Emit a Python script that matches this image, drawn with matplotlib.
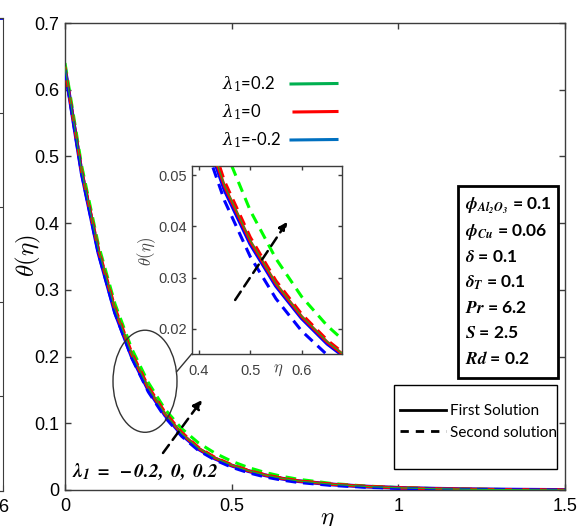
import matplotlib
matplotlib.use('Agg')
import matplotlib.pyplot as plt
from matplotlib.patches import Ellipse, Rectangle
from matplotlib.lines import Line2D
from matplotlib.font_manager import FontProperties

plt.rcParams['font.family'] = ['Liberation Sans', 'DejaVu Sans']

# ---------------- data ----------------
eta = [0, 0.05, 0.1, 0.15, 0.2, 0.25, 0.3, 0.35, 0.4, 0.45, 0.5, 0.55, 0.6,
       0.65, 0.7, 0.8, 0.9, 1.0, 1.1, 1.2, 1.35, 1.5]

green_first = [0.634, 0.478, 0.361, 0.271, 0.204, 0.153, 0.1145, 0.0849, 0.0628, 0.0480,
               0.0373, 0.0289, 0.0225, 0.0175, 0.0136, 0.0086, 0.0053, 0.0033, 0.0020,
               0.0012, 0.0005, 0.0]
red_first = [0.632, 0.477, 0.360, 0.270, 0.203, 0.152, 0.114, 0.0845, 0.0625, 0.0478,
             0.0371, 0.0288, 0.0224, 0.0174, 0.0135, 0.0085, 0.0053, 0.0033, 0.0020,
             0.0012, 0.0005, 0.0]
blue_first = [0.632, 0.475, 0.356, 0.266, 0.200, 0.150, 0.1122, 0.0832, 0.0616, 0.0471,
              0.0366, 0.0284, 0.0221, 0.0171, 0.0133, 0.0083, 0.0052, 0.0032, 0.0020,
              0.0012, 0.0005, 0.0]
green_second = [0.640, 0.486, 0.368, 0.279, 0.212, 0.161, 0.121, 0.092, 0.0707, 0.0552,
                0.0431, 0.0337, 0.0263, 0.0206, 0.0161, 0.0098, 0.0060, 0.0037, 0.0023,
                0.0014, 0.0006, 0.0]
red_second = [0.632, 0.479, 0.362, 0.273, 0.206, 0.155, 0.1165, 0.0866, 0.0640, 0.0488,
              0.0379, 0.0294, 0.0229, 0.0178, 0.0138, 0.0087, 0.0054, 0.0034, 0.0021,
              0.0013, 0.0005, 0.0]
blue_second = [0.630, 0.474, 0.355, 0.265, 0.198, 0.147, 0.109, 0.0805, 0.0594, 0.0450,
               0.0341, 0.0259, 0.0196, 0.0149, 0.0113, 0.0068, 0.0041, 0.0025, 0.0015,
               0.0009, 0.0004, 0.0]

lambda_labels = [r'$\lambda_1$=0.2', r'$\lambda_1$=0', r'$\lambda_1$=-0.2']
solution_labels = ['First Solution', 'Second solution']
param_lines = [r'$\mathbfit{\phi}_{\mathbfit{Al_2O_3}}$ = 0.1',
               r'$\mathbfit{\phi}_{\mathbfit{Cu}}$ = 0.06',
               r'$\mathbfit{\delta}$ = 0.1',
               r'$\mathbfit{\delta}_{\mathbfit{T}}$ = 0.1',
               r'$\mathbfit{Pr}$ = 6.2',
               r'$\mathbfit{S}$ = 2.5',
               r'$\mathbfit{Rd}$ = 0.2']

xticks = [0, 0.5, 1, 1.5]
xtick_labels = ['0', '0.5', '1', '1.5']
yticks = [0, 0.1, 0.2, 0.3, 0.4, 0.5, 0.6, 0.7]
ytick_labels = ['0', '0.1', '0.2', '0.3', '0.4', '0.5', '0.6', '0.7']
inset_xticks = [0.4, 0.5, 0.6]
inset_xtick_labels = ['0.4', '0.5', '0.6']
inset_yticks = [0.02, 0.03, 0.04, 0.05]
inset_ytick_labels = ['0.02', '0.03', '0.04', '0.05']

left_panel_x = [4.0, 6.0]
left_panel_y = [1.0, 1.0]

# ---------------- layout helpers ----------------
W, H = 579, 526
fig = plt.figure(figsize=(W / 100, H / 100), dpi=100)


def fx(px):
    return px / W


def fy(py):
    return 1 - py / H


SPINE = '#3c3c3c'
GREEN, RED, BLUE = '#00ff00', '#ff0000', '#0000ff'
LEG_COLORS = ['#00b050', '#ff0000', '#0070c0']

# ---------------- left panel remnant ----------------
ax0 = fig.add_axes([-0.5, fy(491), 0.5 + 3 / W, (491 - 18) / H])
ax0.set_xlim(0, 6)
ax0.set_ylim(0, 1)
ax0.plot(left_panel_x, left_panel_y, color=BLUE, lw=2)
ax0.set_xticks([6])
ax0.set_xticklabels(['6'])
ax0.set_yticks([0, 0.2, 0.4, 0.6, 0.8, 1.0])
ax0.tick_params(direction='in', left=False, right=True, labelleft=False,
                length=4, color=SPINE, labelsize=13, pad=6)
for s in ax0.spines.values():
    s.set_color(SPINE)

# ---------------- main axes ----------------
ax = fig.add_axes([fx(65), fy(490), 500 / W, 467 / H])
ax.set_xlim(0, 1.5)
ax.set_ylim(0, 0.7)
ax.set_xticks(xticks)
ax.set_xticklabels(xtick_labels)
ax.set_yticks(yticks)
ax.set_yticklabels(ytick_labels)
ax.tick_params(direction='in', top=True, right=True, length=4, width=1,
               color=SPINE, labelsize=13, pad=6)
ax.tick_params(axis='y', pad=4)
for s in ax.spines.values():
    s.set_color(SPINE)
    s.set_linewidth(1.0)

LW = 2.2
DASH = (0, (3.5, 2.2))


def draw_curves(a, lw):
    a.plot(eta, blue_first, color=BLUE, lw=lw * 1.25, zorder=2)
    a.plot(eta, red_first, color=RED, lw=lw, zorder=3)
    a.plot(eta, green_second, color=GREEN, lw=lw, ls=DASH, zorder=2)
    a.plot(eta, red_second, color=RED, lw=lw, ls=DASH, zorder=3)
    a.plot(eta, blue_second, color=BLUE, lw=lw, ls=DASH, zorder=4)
    a.plot(eta, green_first, color='#22aa22', lw=lw * 0.4, zorder=5)


draw_curves(ax, LW)

ax.set_xlabel(r'$\eta$', fontsize=18, math_fontfamily='cm')
ax.xaxis.set_label_coords((327 - 65) / 500, (490 - 507) / 467)
ax.set_ylabel(r'$\theta(\eta)$', fontsize=18, math_fontfamily='cm')
ax.yaxis.set_label_coords((43 - 65) / 500, (490 - 255) / 467)

# ellipse + connector
ax.add_patch(Ellipse((0.24, 0.163), width=0.192, height=0.153, fill=False,
                     ec='#333333', lw=1.0, zorder=6))
ax.plot([0.335, 0.380], [0.1773, 0.2039], color='#333333', lw=1.0, zorder=6)

# main arrow
ax.annotate('', xy=(0.411, 0.135), xytext=(0.294, 0.0555),
            arrowprops=dict(arrowstyle='-|>', color='k', lw=1.8, ls=(0, (4, 2.5)),
                            mutation_scale=13, shrinkA=0, shrinkB=0), zorder=7)
ax.text(0.021, 0.027, r'$\mathbfit{\lambda_1\ =\ -0.2,\ 0,\ 0.2}$', fontsize=14,
        math_fontfamily='stix', va='center', ha='left')

# ---------------- lambda legend (labels left, samples right) ----------------
lam_rows_y = [84, 112, 140]
lam_line_x0 = [291, 294, 291]
for lab, col, yy, x0 in zip(lambda_labels, LEG_COLORS, lam_rows_y, lam_line_x0):
    fig.text(fx(222), fy(yy), lab, fontsize=12, family='Lato',
             math_fontfamily='dejavuserif', va='center', ha='left')
    fig.add_artist(Line2D([fx(x0), fx(337)], [fy(yy), fy(yy - 0.5)],
                          transform=fig.transFigure, color=col, lw=2.2))

# ---------------- solution legend ----------------
fig.patches.append(Rectangle((fx(394), fy(469)), 163 / W, 84 / H, transform=fig.transFigure,
                             fill=True, fc='white', ec='k', lw=1.0, zorder=1))
leg2 = fig.legend(handles=[Line2D([], [], color='k', lw=2),
                           Line2D([], [], color='k', lw=2, ls=(0, (3, 2.5)))],
                  labels=solution_labels, loc='upper left',
                  bbox_to_anchor=(fx(400), fy(404)), bbox_transform=fig.transFigure,
                  frameon=False, borderpad=0, borderaxespad=0,
                  handlelength=3.0, handletextpad=0.3, labelspacing=0.5,
                  prop=FontProperties(family='Lato', size=11))
leg2.set_zorder(3)

# ---------------- parameter box ----------------
fig.patches.append(Rectangle((fx(458), fy(378)), 100 / W, 192 / H, transform=fig.transFigure,
                             fill=True, fc='white', ec='k', lw=2.0, zorder=1))
for i, line in enumerate(param_lines):
    fig.text(fx(465), fy(206 + 25.5 * i), line, fontsize=12.5, fontweight='bold',
             family='Lato', math_fontfamily='stix', va='center', ha='left', zorder=2)

# ---------------- inset ----------------
axi = fig.add_axes([fx(191.7), fy(354), 150 / W, 188 / H])
axi.set_facecolor('white')
axi.set_xlim(0.386, 0.678)
axi.set_ylim(0.0151, 0.0518)
axi.set_xticks(inset_xticks)
axi.set_xticklabels(inset_xtick_labels)
axi.set_yticks(inset_yticks)
axi.set_yticklabels(inset_ytick_labels)
axi.tick_params(direction='in', top=True, right=True, length=3, width=1,
                color=SPINE, labelsize=10.5, labelcolor='#404040', pad=3.5)
axi.tick_params(axis='x', pad=7)
for s in axi.spines.values():
    s.set_color(SPINE)
    s.set_linewidth(1.0)
draw_curves(axi, LW)
axi.annotate('', xy=(0.572, 0.0409), xytext=(0.4706, 0.02565),
             arrowprops=dict(arrowstyle='-|>', color='k', lw=1.8, ls=(0, (4, 2.5)),
                             mutation_scale=12, shrinkA=0, shrinkB=0), zorder=7)
axi.set_ylabel(r'$\theta(\eta)$', fontsize=12, math_fontfamily='cm', color='#404040')
axi.yaxis.set_label_coords((158 - 191.7) / 150, (354 - 251) / 188)
axi.text((278 - 191.7) / 150, (354 - 370) / 188, r'$\eta$', fontsize=12,
         math_fontfamily='cm', color='#404040', transform=axi.transAxes,
         ha='center', va='center')

fig.savefig('out.png', dpi=100)
